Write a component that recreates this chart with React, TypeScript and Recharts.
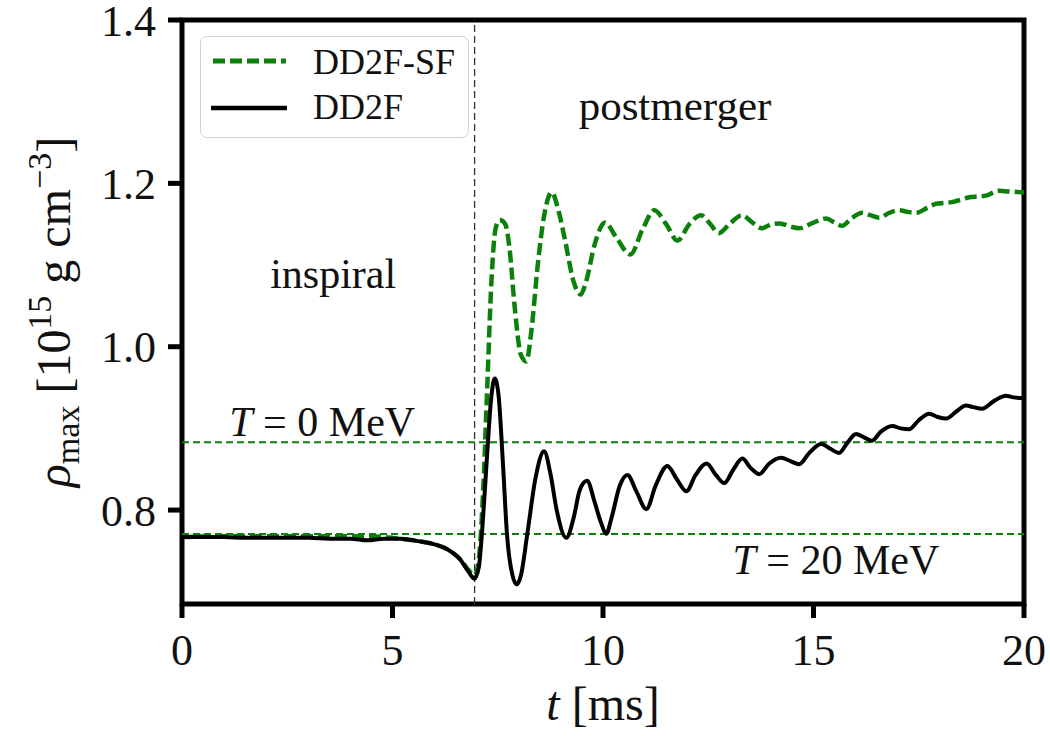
import React from 'react';
import {
  LineChart,
  Line,
  XAxis,
  YAxis,
  ReferenceLine,
  ReferenceArea,
  ReferenceDot,
  Legend,
} from 'recharts';

// ---- data ----
const tBlack = [
  0, 0.5, 1, 1.5, 2, 2.5, 3, 3.5, 4, 4.4, 4.8, 5.2, 5.6, 6.0, 6.3, 6.6, 6.8, 6.95,
  7.05, 7.15, 7.25, 7.35, 7.43, 7.52, 7.62, 7.72, 7.85, 7.95, 8.05, 8.2, 8.4, 8.6,
  8.75, 8.9, 9.13, 9.3, 9.45, 9.62, 9.8, 9.95, 10.08, 10.2, 10.4, 10.58, 10.8, 11.03,
  11.25, 11.53, 11.75, 11.98, 12.2, 12.46, 12.68, 12.88, 13.1, 13.31, 13.5, 13.71,
  13.95, 14.23, 14.45, 14.66, 14.9, 15.18, 15.4, 15.61, 15.8, 16.01, 16.2, 16.39,
  16.6, 16.87, 17.07, 17.27, 17.5, 17.75, 17.95, 18.15, 18.4, 18.62, 18.8, 19.0,
  19.3, 19.57, 19.75, 20.0,
];
const rhoBlack = [
  0.767, 0.767, 0.767, 0.766, 0.766, 0.766, 0.766, 0.765, 0.765, 0.763, 0.765, 0.765,
  0.762, 0.758, 0.752, 0.74, 0.725, 0.716, 0.73, 0.79, 0.87, 0.94, 0.961, 0.94, 0.86,
  0.77, 0.72, 0.709, 0.72, 0.77, 0.84, 0.872, 0.845, 0.8, 0.766, 0.79, 0.825, 0.836,
  0.81, 0.785, 0.771, 0.79, 0.83, 0.843, 0.822, 0.801, 0.83, 0.854, 0.838, 0.823,
  0.843, 0.857, 0.843, 0.833, 0.85, 0.863, 0.852, 0.844, 0.857, 0.864, 0.86, 0.856,
  0.87, 0.881, 0.875, 0.87, 0.882, 0.893, 0.889, 0.885, 0.896, 0.903, 0.9, 0.899,
  0.91, 0.918, 0.914, 0.912, 0.921, 0.928, 0.926, 0.924, 0.934, 0.94, 0.938, 0.937,
];

const tGreen = [
  0, 1, 2, 3, 4, 4.5, 5, 5.5, 6, 6.3, 6.6, 6.8, 6.95, 7.05, 7.15, 7.25, 7.35, 7.45,
  7.55, 7.68, 7.78, 7.9, 8.05, 8.18, 8.3, 8.45, 8.6, 8.78, 8.95, 9.1, 9.3, 9.47, 9.6,
  9.8, 10.05, 10.3, 10.65, 10.95, 11.22, 11.5, 11.77, 12.05, 12.33, 12.55, 12.75,
  13.0, 13.3, 13.55, 13.78, 14.0, 14.2, 14.45, 14.66, 15.0, 15.3, 15.5, 15.68, 15.9,
  16.16, 16.35, 16.56, 16.8, 17.03, 17.25, 17.44, 17.7, 17.91, 18.1, 18.29, 18.5,
  18.7, 18.9, 19.1, 19.4, 19.65, 20.0,
];
const rhoGreen = [
  0.767, 0.768, 0.768, 0.768, 0.768, 0.768, 0.766, 0.763, 0.758, 0.752, 0.74, 0.727,
  0.72, 0.74, 0.82, 0.95, 1.08, 1.145, 1.155, 1.15, 1.12, 1.05, 0.99, 0.982, 1.02,
  1.1, 1.16, 1.189, 1.165, 1.13, 1.08, 1.064, 1.08, 1.125, 1.152, 1.135, 1.113, 1.145,
  1.167, 1.15, 1.13, 1.15, 1.161, 1.15, 1.139, 1.15, 1.161, 1.152, 1.145, 1.15, 1.151,
  1.147, 1.145, 1.152, 1.157, 1.152, 1.148, 1.157, 1.164, 1.161, 1.158, 1.164, 1.167,
  1.165, 1.164, 1.17, 1.175, 1.176, 1.177, 1.18, 1.183, 1.184, 1.185, 1.191, 1.19,
  1.189,
];

const seriesNames = ['DD2F-SF', 'DD2F'];
const xTicks = [0, 5, 10, 15, 20];
const yTicks = [0.8, 1.0, 1.2, 1.4];
const xDomain = [0, 20];
const yDomain = [0.685, 1.4];
const tempLevels = [0.883, 0.7706]; // T = 0 MeV, T = 20 MeV
const tempLabels = ['0', '20'];
const mergerTime = 6.95;

const greenData = tGreen.map((t, i) => ({ t, rho: rhoGreen[i] }));
const blackData = tBlack.map((t, i) => ({ t, rho: rhoBlack[i] }));

const GREEN = '#0b800b';
const FONT = "'Liberation Serif', 'Times New Roman', serif";
const INK = '#111';

const LegendBox = () => (
  <div
    style={{
      width: 269,
      height: 102,
      border: '1.5px solid #d2d2d2',
      borderRadius: 7,
      background: 'rgba(255,255,255,0.9)',
      boxSizing: 'border-box',
      position: 'relative',
    }}
  >
    <svg width={269} height={102} style={{ position: 'absolute', left: -1.5, top: -1.5 }}>
      <line x1={13} x2={86} y1={25} y2={25} stroke={GREEN} strokeWidth={5} strokeDasharray="12 5" />
      <text x={113} y={38} fontFamily={FONT} fontSize={36} fill={INK}>
        {seriesNames[0]}
      </text>
      <line x1={11} x2={87} y1={72} y2={72} stroke="#000" strokeWidth={4.5} />
      <text x={113} y={83} fontFamily={FONT} fontSize={36} fill={INK}>
        {seriesNames[1]}
      </text>
    </svg>
  </div>
);

const textShape = (content: React.ReactNode, size: number) => (p: any) => (
  <text x={p.cx} y={p.cy} textAnchor="middle" fontFamily={FONT} fontSize={size} fill={INK}>
    {content}
  </text>
);

const tempText = (val: string) => (
  <>
    <tspan fontStyle="italic">T</tspan>
    {' = ' + val + ' MeV'}
  </>
);

export default function App() {
  return (
    <div style={{ position: 'absolute', left: 0, top: 0, width: 1050, height: 736, background: '#fff' }}>
      <LineChart width={1050} height={736} margin={{ top: 20, right: 26, bottom: 0, left: 0 }}>
        <XAxis
          type="number"
          dataKey="t"
          domain={xDomain}
          ticks={xTicks}
          interval={0}
          allowDataOverflow
          height={132}
          axisLine={false}
          tickSize={14}
          tickMargin={16}
          tickLine={{ stroke: '#000', strokeWidth: 5 }}
          tick={{ fontFamily: FONT, fontSize: 44, fill: INK }}
          label={{
            content: () => (
              <text x={603} y={720} textAnchor="middle" fontFamily={FONT} fontSize={48} fill={INK}>
                <tspan fontStyle="italic">t</tspan>
                {' [ms]'}
              </text>
            ),
          }}
        />
        <YAxis
          type="number"
          domain={yDomain}
          ticks={yTicks}
          interval={0}
          allowDataOverflow
          width={182}
          axisLine={false}
          tickSize={14}
          tickMargin={12}
          tickLine={{ stroke: '#000', strokeWidth: 5 }}
          tick={{ fontFamily: FONT, fontSize: 44, fill: INK }}
          tickFormatter={(v: number) => v.toFixed(1)}
          label={{
            content: () => (
              <text
                x={70}
                y={312}
                textAnchor="middle"
                transform="rotate(-90 70 312)"
                fontFamily={FONT}
                fontSize={48}
                fill={INK}
              >
                <tspan fontStyle="italic">ρ</tspan>
                <tspan fontSize={34} dy={9}>max</tspan>
                <tspan dy={-9}>{' [10'}</tspan>
                <tspan fontSize={34} dy={-19}>15</tspan>
                <tspan dy={19}>{' g cm'}</tspan>
                <tspan fontSize={34} dy={-19}>−3</tspan>
                <tspan dy={19}>]</tspan>
              </text>
            ),
          }}
        />

        <ReferenceLine y={tempLevels[0]} stroke={GREEN} strokeWidth={2} strokeDasharray="7 4" />
        <ReferenceLine y={tempLevels[1]} stroke={GREEN} strokeWidth={2} strokeDasharray="7 4" />
        <ReferenceLine x={mergerTime} stroke="#333" strokeWidth={1.3} strokeDasharray="7 4" />

        <Line
          data={greenData}
          dataKey="rho"
          name={seriesNames[0]}
          type="monotone"
          stroke={GREEN}
          strokeWidth={4.5}
          strokeDasharray="12 5"
          dot={false}
          activeDot={false}
          isAnimationActive={false}
        />
        <Line
          data={blackData}
          dataKey="rho"
          name={seriesNames[1]}
          type="monotone"
          stroke="#000"
          strokeWidth={4}
          dot={false}
          activeDot={false}
          isAnimationActive={false}
        />

        <ReferenceDot x={3.59} y={1.0724} r={0} shape={textShape('inspiral', 42)} />
        <ReferenceDot x={11.71} y={1.2773} r={0} shape={textShape('postmerger', 43)} />
        <ReferenceDot x={3.33} y={0.8908} r={0} shape={textShape(tempText(tempLabels[0]), 42)} />
        <ReferenceDot x={15.53} y={0.7215} r={0} shape={textShape(tempText(tempLabels[1]), 42)} />

        <ReferenceArea
          x1={xDomain[0]}
          x2={xDomain[1]}
          y1={yDomain[0]}
          y2={yDomain[1]}
          fill="none"
          stroke="#000"
          strokeWidth={5}
        />

        <Legend
          layout="vertical"
          align="center"
          verticalAlign="middle"
          content={() => <LegendBox />}
          wrapperStyle={{ left: 200, top: 36, width: 269, height: 102 }}
        />
      </LineChart>
    </div>
  );
}
